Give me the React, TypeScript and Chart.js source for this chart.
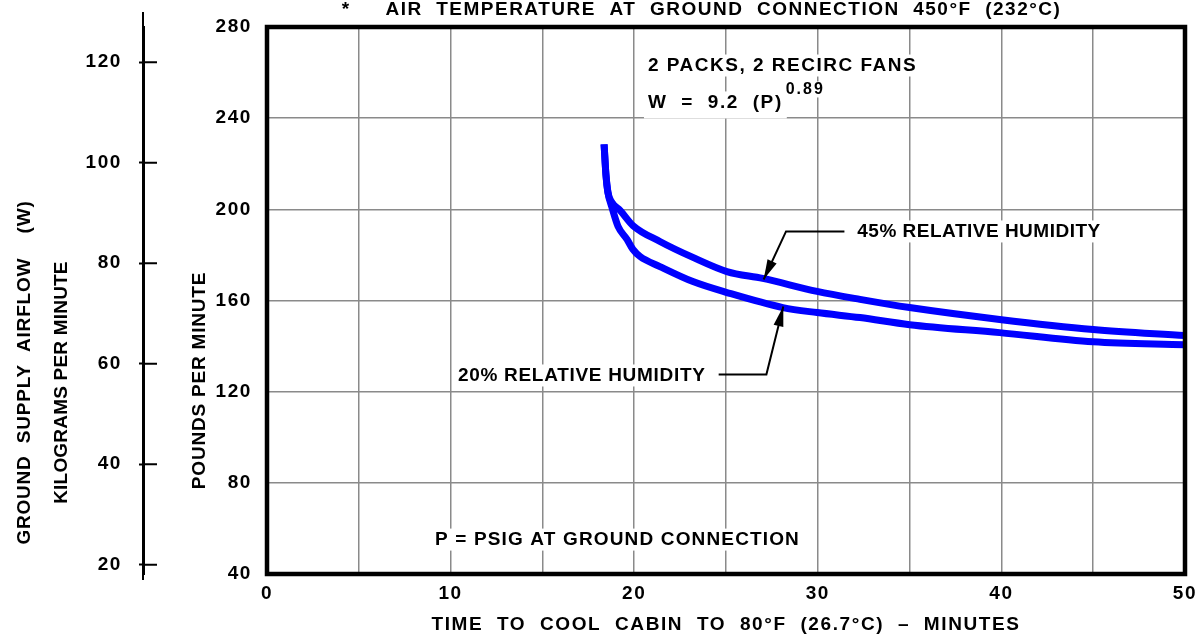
import React, { useEffect, useRef } from 'react';
import { Chart, registerables } from 'chart.js';

Chart.register(...registerables);

// ---------------- data ----------------
const minuteGrid = [0, 5, 10, 15, 20, 25, 30, 35, 40, 45, 50];
const minuteLabels = [0, 10, 20, 30, 40, 50];
const poundTicks = [40, 80, 120, 160, 200, 240, 280];
const kilogramTicks = [20, 40, 60, 80, 100, 120];

// 45% relative humidity curve (minutes, lb/min)
const rh45Minutes = [18.36, 18.46, 18.57, 18.79, 19.23, 19.93, 21.4, 23.2, 25.05, 27.0, 29.96, 32.3, 35.0, 39.9, 45.0, 50.0];
const rh45Pounds = [228.5, 215.3, 207.4, 203.0, 199.5, 192.9, 185.9, 178.9, 172.7, 169.7, 164.0, 160.5, 156.9, 151.7, 147.3, 144.6];

// 20% relative humidity curve (minutes, lb/min)
const rh20Minutes = [18.36, 18.46, 18.57, 18.79, 19.12, 19.61, 19.93, 20.32, 21.4, 23.2, 25.05, 28.1, 29.96, 32.3, 35.0, 39.9, 45.0, 50.0];
const rh20Pounds = [228.5, 215.3, 207.4, 200.8, 192.5, 186.8, 182.4, 179.3, 174.9, 168.3, 163.5, 156.9, 154.7, 152.5, 149.4, 145.9, 141.9, 140.6];

const LB_TO_KG = 0.45359237;

// ---------------- text ----------------
const TOP_STAR = '*';
const TOP_TITLE = 'AIR  TEMPERATURE  AT  GROUND  CONNECTION  450°F  (232°C)';
const X_TITLE = 'TIME  TO  COOL  CABIN  TO  80°F  (26.7°C)  –  MINUTES';
const Y_TITLE = 'POUNDS PER MINUTE';
const KG_TITLE_1 = 'GROUND  SUPPLY  AIRFLOW    (W)';
const KG_TITLE_2 = 'KILOGRAMS PER MINUTE';
const NOTE_PACKS = '2 PACKS, 2 RECIRC FANS';
const NOTE_FORMULA = 'W  =  9.2  (P)';
const NOTE_EXP = '0.89';
const NOTE_45 = '45% RELATIVE HUMIDITY';
const NOTE_20 = '20% RELATIVE HUMIDITY';
const NOTE_P = 'P = PSIG AT GROUND CONNECTION';

// ---------------- style ----------------
const FAMILY = '"Liberation Sans", Arial, sans-serif';
const FONT_SIZE = 19;
const BLUE = '#0000ff';
const GRID = '#8a8a8a';
const INK = '#000000';
const font = { family: FAMILY, size: FONT_SIZE, weight: 'bold' as const };

type Ctx = CanvasRenderingContext2D;
type Bg = { px: number; top: number; bottom: number };

function textAt(ctx: Ctx, text: string, x: number, y: number, size: number, ls: number, align: CanvasTextAlign, bg?: Bg) {
  ctx.font = `bold ${size}px ${FAMILY}`;
  (ctx as any).letterSpacing = `${ls}px`;
  ctx.textAlign = align;
  ctx.textBaseline = 'middle';
  if (bg) {
    const w = ctx.measureText(text).width;
    const left = align === 'left' ? x : align === 'center' ? x - w / 2 : x - w;
    ctx.fillStyle = '#ffffff';
    ctx.fillRect(left - bg.px, y - bg.top, w + 2 * bg.px, bg.top + bg.bottom);
  }
  ctx.fillStyle = INK;
  ctx.fillText(text, x, y);
}

function vText(ctx: Ctx, text: string, x: number, y: number, ls: number) {
  ctx.save();
  ctx.translate(x, y);
  ctx.rotate(-Math.PI / 2);
  ctx.font = `bold ${FONT_SIZE}px ${FAMILY}`;
  (ctx as any).letterSpacing = `${ls}px`;
  ctx.textAlign = 'center';
  ctx.textBaseline = 'middle';
  ctx.fillStyle = INK;
  ctx.fillText(text, 0, 0);
  ctx.restore();
}

function arrow(ctx: Ctx, pts: Array<[number, number]>) {
  ctx.strokeStyle = INK;
  ctx.fillStyle = INK;
  ctx.lineWidth = 2;
  ctx.beginPath();
  ctx.moveTo(pts[0][0], pts[0][1]);
  for (let i = 1; i < pts.length; i++) ctx.lineTo(pts[i][0], pts[i][1]);
  ctx.stroke();
  const [x1, y1] = pts[pts.length - 2];
  const [x2, y2] = pts[pts.length - 1];
  const a = Math.atan2(y2 - y1, x2 - x1);
  const L = 20;
  const W = 5;
  const c = Math.cos(a);
  const s = Math.sin(a);
  ctx.beginPath();
  ctx.moveTo(x2, y2);
  ctx.lineTo(x2 - L * c + W * s, y2 - L * s - W * c);
  ctx.lineTo(x2 - L * c - W * s, y2 - L * s + W * c);
  ctx.closePath();
  ctx.fill();
}

const zeroPadding = (s: any) => {
  s.paddingTop = 0;
  s.paddingBottom = 0;
  s.paddingLeft = 0;
  s.paddingRight = 0;
};

const decor = {
  id: 'cadDecor',
  beforeUpdate(chart: any) {
    chart.ctx.letterSpacing = '1.6px';
  },
  afterDatasetsDraw(chart: any) {
    const { ctx, chartArea: ca, scales } = chart;
    const xs = scales.x;
    const ys = scales.y;
    const kg = scales.kg;
    const X = (v: number) => xs.getPixelForValue(v);
    const Y = (v: number) => ys.getPixelForValue(v);
    ctx.save();

    // plot frame
    ctx.strokeStyle = INK;
    ctx.lineWidth = 4.5;
    ctx.strokeRect(ca.left, ca.top, ca.right - ca.left, ca.bottom - ca.top);

    // kilogram axis: line overshoot and ticks crossing the line
    const kx = kg.right - 1;
    ctx.lineWidth = 2;
    ctx.beginPath();
    ctx.moveTo(kx, ca.top - 15);
    ctx.lineTo(kx, ca.bottom + 6);
    kilogramTicks.forEach((v) => {
      const py = kg.getPixelForValue(v * (1 / LB_TO_KG) * LB_TO_KG);
      ctx.moveTo(kx, py);
      ctx.lineTo(kx + 14, py);
    });
    ctx.stroke();

    // titles
    textAt(ctx, TOP_STAR, X(4.3), ca.top - 17, FONT_SIZE, 1, 'center');
    textAt(ctx, TOP_TITLE, X(6.45), ca.top - 17, FONT_SIZE, 1.5, 'left');
    vText(ctx, Y_TITLE, ys.left + 56, Y(124.9), 0.8);
    vText(ctx, KG_TITLE_1, kg.left + 25, Y(128.4), 0.8);
    vText(ctx, KG_TITLE_2, kg.left + 62, Y(124.0), 0.2);

    // notes inside the plot
    const bg = { px: 4, top: 11, bottom: 11 };
    textAt(ctx, NOTE_PACKS, X(20.75), Y(263.1), FONT_SIZE, 1.5, 'left', bg);
    textAt(ctx, NOTE_FORMULA, X(20.75), Y(246.9), FONT_SIZE, 1.6, 'left', { px: 4, top: 11, bottom: 16 });
    textAt(ctx, NOTE_EXP, X(28.25), Y(252.6), 16, 2, 'left', { px: 2, top: 8, bottom: 8 });
    textAt(ctx, NOTE_45, X(32.15), Y(190.3), FONT_SIZE, 0.5, 'left', bg);
    textAt(ctx, NOTE_20, X(10.4), Y(127.1), FONT_SIZE, 0.7, 'left', bg);
    textAt(ctx, NOTE_P, X(9.15), Y(55.1), FONT_SIZE, 1.15, 'left', bg);

    // leader arrows
    arrow(ctx, [[X(31.45), Y(190.3)], [X(28.27), Y(190.3)], [X(27.05), Y(169.2)]]);
    arrow(ctx, [[X(24.6), Y(127.5)], [X(27.2), Y(127.5)], [X(28.12), Y(157.4)]]);

    ctx.restore();
  },
};

export default function App() {
  const ref = useRef<HTMLCanvasElement>(null);

  useEffect(() => {
    document.body.style.margin = '0';
    const canvas = ref.current;
    if (!canvas) return;

    const chart = new Chart(canvas, {
      type: 'line',
      data: {
        datasets: [
          {
            label: '45% RELATIVE HUMIDITY',
            data: rh45Minutes.map((x, i) => ({ x, y: rh45Pounds[i] })),
            borderColor: BLUE,
            borderWidth: 7,
          },
          {
            label: '20% RELATIVE HUMIDITY',
            data: rh20Minutes.map((x, i) => ({ x, y: rh20Pounds[i] })),
            borderColor: BLUE,
            borderWidth: 7,
          },
        ],
      },
      options: {
        responsive: false,
        animation: false,
        devicePixelRatio: 1,
        layout: { padding: { left: 0, top: 27, right: 11, bottom: 0 } },
        plugins: {
          legend: { display: false },
          tooltip: { enabled: false },
          title: { display: false },
        },
        elements: {
          point: { radius: 0 },
          line: {
            borderCapStyle: 'butt',
            borderJoinStyle: 'round',
            cubicInterpolationMode: 'monotone',
          },
        },
        scales: {
          x: {
            type: 'linear',
            position: 'bottom',
            min: 0,
            max: 50,
            afterBuildTicks: (s: any) => {
              s.ticks = minuteGrid.map((value) => ({ value }));
            },
            ticks: {
              autoSkip: false,
              maxRotation: 0,
              font,
              color: INK,
              padding: 8,
              callback: (v: any) => (minuteLabels.includes(Number(v)) ? String(v) : ''),
            },
            grid: { color: GRID, lineWidth: 1.5, drawTicks: false },
            border: { display: false },
            title: { display: true, text: X_TITLE, font, color: INK, padding: { top: 0, bottom: 1 } },
            afterFit: (s: any) => {
              s.height = 63;
              zeroPadding(s);
            },
          },
          y: {
            type: 'linear',
            position: 'left',
            min: 40,
            max: 280,
            afterBuildTicks: (s: any) => {
              s.ticks = poundTicks.map((value) => ({ value }));
            },
            ticks: { font, color: INK, padding: 15 },
            grid: { color: GRID, lineWidth: 1.5, drawTicks: false },
            border: { display: false },
            afterFit: (s: any) => {
              s.width = 123;
              zeroPadding(s);
            },
          },
          kg: {
            type: 'linear',
            position: 'left',
            weight: 10,
            min: 40 * LB_TO_KG,
            max: 280 * LB_TO_KG,
            afterBuildTicks: (s: any) => {
              s.ticks = kilogramTicks.map((value) => ({ value }));
            },
            ticks: { font, color: INK, padding: 17, includeBounds: false },
            grid: { drawOnChartArea: false, drawTicks: true, tickLength: 5, tickWidth: 2, tickColor: INK },
            border: { display: true, color: INK, width: 2 },
            afterFit: (s: any) => {
              s.width = 144;
              zeroPadding(s);
            },
          },
        },
      } as any,
      plugins: [decor],
    });

    return () => chart.destroy();
  }, []);

  return <canvas ref={ref} width={1196} height={637} style={{ display: 'block', width: 1196, height: 637 }} />;
}
